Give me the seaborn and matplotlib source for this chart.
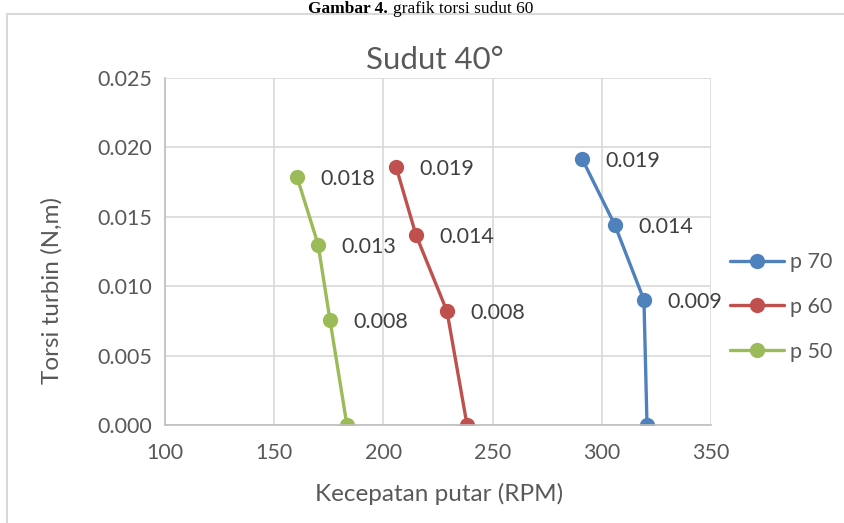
import matplotlib
matplotlib.use("Agg")
import matplotlib.pyplot as plt
import matplotlib.ticker as mticker
from matplotlib.patches import Rectangle
import seaborn as sns
import pandas as pd

# ---- data ----
series_names = ["p 70", "p 60", "p 50"]
rpm_p70 = [290.9, 306.0, 319.3, 320.7]
torsi_p70 = [0.0192, 0.0144, 0.0090, 0.0]
rpm_p60 = [205.8, 214.9, 229.1, 238.3]
torsi_p60 = [0.0186, 0.0137, 0.0082, 0.0]
rpm_p50 = [160.4, 170.1, 175.5, 183.3]
torsi_p50 = [0.0179, 0.0130, 0.0076, 0.0]
colors = ["#4F81BD", "#C0504D", "#9BBB59"]

title = "Sudut 40\u00b0"
xlabel = "Kecepatan putar (RPM)"
ylabel = "Torsi turbin (N,m)"
x_ticks = [100, 150, 200, 250, 300, 350]
y_ticks = [0.000, 0.005, 0.010, 0.015, 0.020, 0.025]

df = pd.concat([
    pd.DataFrame({"rpm": rpm_p70, "torsi": torsi_p70, "seri": series_names[0]}),
    pd.DataFrame({"rpm": rpm_p60, "torsi": torsi_p60, "seri": series_names[1]}),
    pd.DataFrame({"rpm": rpm_p50, "torsi": torsi_p50, "seri": series_names[2]}),
], ignore_index=True)

sns.set_theme(style="white")
plt.rcParams["font.family"] = ["Lato", "DejaVu Sans"]
txt = "#595959"

fig = plt.figure(figsize=(8.45, 5.23), dpi=100)
ax = fig.add_axes([165/845, 1-425/523, 546/845, 347/523])

sns.lineplot(data=df, x="rpm", y="torsi", hue="seri", hue_order=series_names,
             palette=colors, sort=False, estimator=None, marker="o",
             markersize=11, markeredgewidth=0, linewidth=2.4, ax=ax)

# data labels (not for zero points)
for _, row in df.iterrows():
    if row["torsi"] > 0:
        ax.annotate(f"{row['torsi']:.3f}", (row["rpm"], row["torsi"]),
                    xytext=(23, -2), textcoords="offset pixels",
                    ha="left", va="center", fontsize=15.5, color="#404040")

ax.set_xlim(100, 350)
ax.set_ylim(0, 0.025)
ax.set_xticks(x_ticks)
ax.set_yticks(y_ticks)
ax.yaxis.set_major_formatter(mticker.FormatStrFormatter("%.3f"))
ax.grid(True, color="#d9d9d9", linewidth=1.2)
ax.set_axisbelow(True)
for s in ["top", "right"]:
    ax.spines[s].set_visible(False)
for s in ["left", "bottom"]:
    ax.spines[s].set_color("#bfbfbf")
    ax.spines[s].set_linewidth(1.2)
ax.tick_params(axis="both", which="major", direction="out", length=5,
               color="#bfbfbf", width=1.2, labelsize=15.5, labelcolor=txt, pad=4)
ax.tick_params(axis="x", pad=8)

ax.set_xlabel(xlabel, fontsize=17.5, color=txt)
ax.set_ylabel(ylabel, fontsize=17.5, color=txt)
ax.xaxis.label.set_va("center")
ax.yaxis.label.set_va("center")
ax.xaxis.set_label_coords(0.502, -0.199)
ax.yaxis.set_label_coords(-0.207, 0.389)

leg = ax.legend(loc="center left", bbox_to_anchor=(730/845, 1-307/523),
                bbox_transform=fig.transFigure, frameon=False, fontsize=15.5,
                handlelength=2.5, handletextpad=0.3, labelspacing=1.15,
                borderaxespad=0, borderpad=0)
for t in leg.get_texts():
    t.set_color(txt)

fig.text(435/845, 1-60/523, title, ha="center", va="center",
         fontsize=22.5, color=txt)

# outer chart border (partially cropped)
fig.patches.append(Rectangle((7/845, -0.1), 1.0, 1-14/523+0.1,
                             transform=fig.transFigure, fill=False,
                             edgecolor="#d9d9d9", linewidth=1.5))

# document caption
fig.text(388/845, 1-13/523, "Gambar 4.", ha="right", va="baseline",
         fontsize=12.5, fontweight="bold", family="Liberation Serif", color="black")
fig.text(393/845, 1-13/523, "grafik torsi sudut 60", ha="left", va="baseline",
         fontsize=12.5, family="Liberation Serif", color="black")

fig.savefig("out.png", dpi=100)
